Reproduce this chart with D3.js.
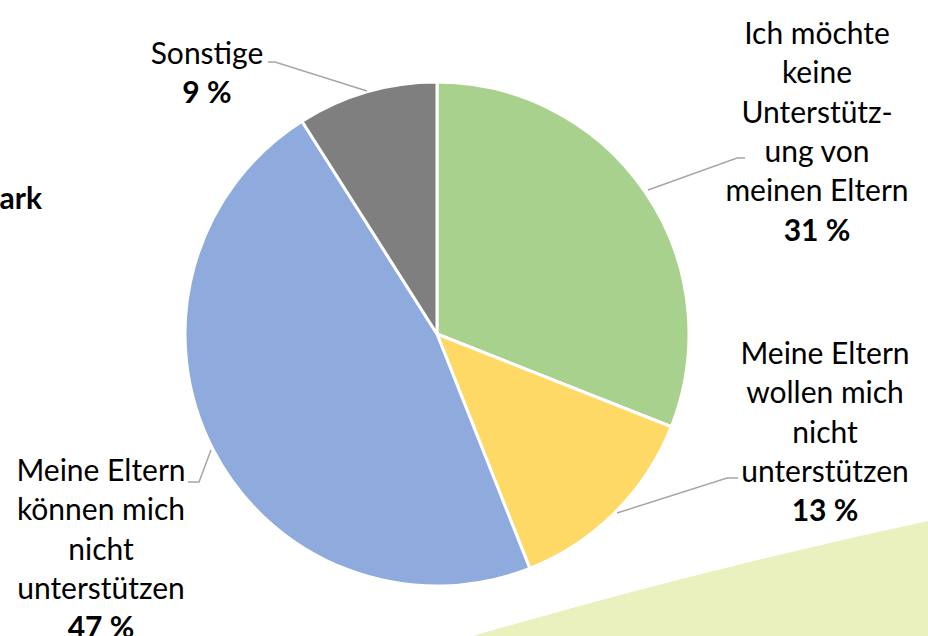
<!DOCTYPE html>
<html>
<head>
<meta charset="utf-8">
<script src="https://cdn.jsdelivr.net/npm/d3@7"></script>
<style>
  body { margin: 0; background: #fff; }
  svg { display: block; font-family: Lato, "Noto Sans", sans-serif; }
</style>
</head>
<body>
<script>
var width = 928
var height = 636

// data
var categories = ['Ich möchte keine Unterstützung von meinen Eltern', 'Meine Eltern wollen mich nicht unterstützen', 'Meine Eltern können mich nicht unterstützen', 'Sonstige']
var values = [31, 13, 47, 9]
var labelLines = [
  ['Ich möchte', 'keine', 'Unterstütz-', 'ung von', 'meinen Eltern'],
  ['Meine Eltern', 'wollen mich', 'nicht', 'unterstützen'],
  ['Meine Eltern', 'können mich', 'nicht', 'unterstützen'],
  ['Sonstige']
]
var colors = ['#A9D18E', '#FFD966', '#8FAADC', '#7F7F7F']

var cx = 437, cy = 334, r = 252
var lineH = 39.3
// label anchor (centre x, first line y) and leader line points
var labelPos = [[817, 44], [825, 364], [101, 481], [207, 64]]
var leaders = [
  [[648, 190], [737, 158], [745, 158]],
  [[617, 513], [727, 478], [738, 478]],
  [[211, 450], [199, 482], [188, 482]],
  [[367, 91], [275, 62], [268, 62]]
]

var svg = d3.select('body').append('svg').attr('width', width).attr('height', height)

// pale green shape in the bottom right corner
svg.append('path')
  .attr('d', 'M473,636 Q700,570 928,521 L928,636 Z')
  .attr('fill', '#EBF0BF')

// cut off text on the left
svg.append('text').attr('x', 42).attr('y', 209).attr('text-anchor', 'end')
  .attr('font-size', 30).attr('font-weight', 'bold').text('Dänemark')

var pie = d3.pie().sort(null).value(d => d)
var arc = d3.arc().innerRadius(0).outerRadius(r)

var g = svg.append('g').attr('transform', `translate(${cx},${cy})`)
g.selectAll('path').data(pie(values)).enter().append('path')
  .attr('d', arc)
  .attr('fill', (d, i) => colors[i])
  .attr('stroke', '#fff').attr('stroke-width', 3).attr('stroke-linejoin', 'round')

svg.append('g').selectAll('path').data(leaders).enter().append('path')
  .attr('d', d => d3.line()(d))
  .attr('fill', 'none').attr('stroke', '#A6A6A6').attr('stroke-width', 1.5)

var labels = svg.append('g').selectAll('text').data(labelLines).enter().append('text')
  .attr('text-anchor', 'middle').attr('font-size', 30).attr('fill', '#000')
labels.each(function (lines, i) {
  var t = d3.select(this)
  var p = labelPos[i]
  lines.forEach((l, j) => {
    t.append('tspan').attr('x', p[0]).attr('y', p[1] + j * lineH).text(l)
  })
  t.append('tspan').attr('x', p[0]).attr('y', p[1] + lines.length * lineH)
    .attr('font-weight', 'bold').text(values[i] + ' %')
})
</script>
</body>
</html>
